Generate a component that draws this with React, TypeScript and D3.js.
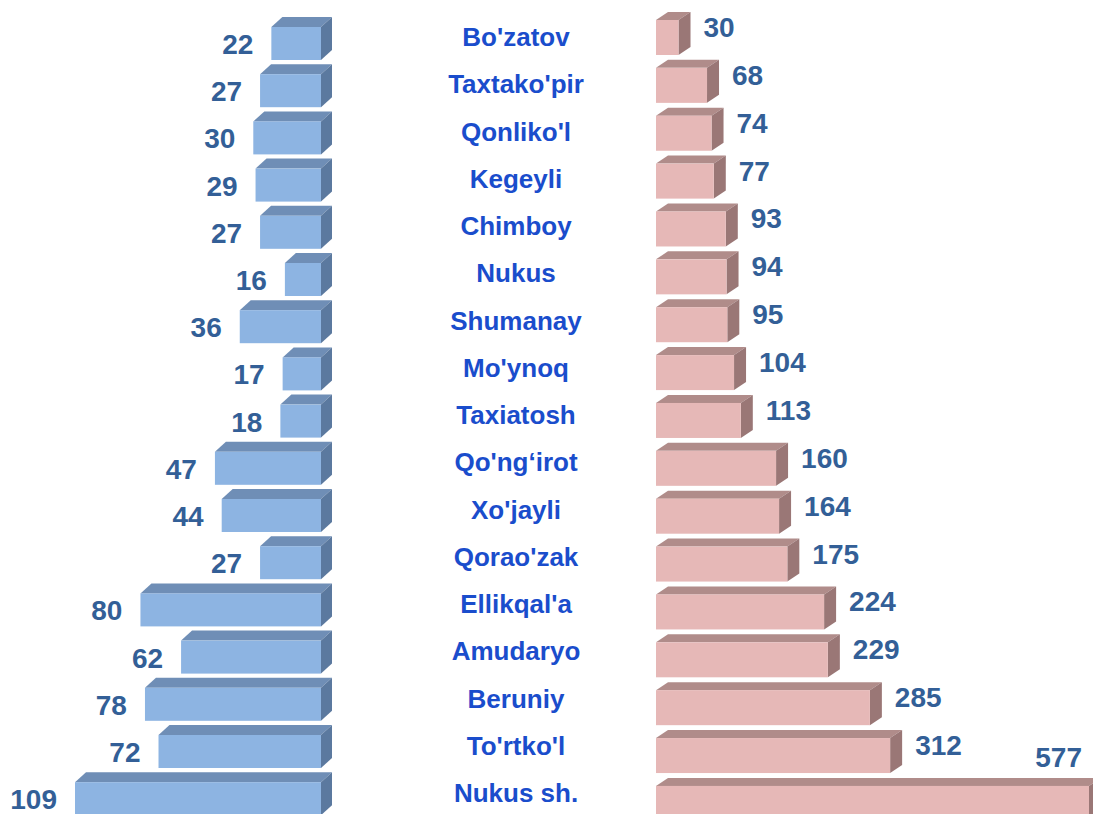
import React from "react";
import * as d3 from "d3";

const regions = ["Bo'zatov","Taxtako'pir","Qonliko'l","Kegeyli","Chimboy","Nukus","Shumanay","Mo'ynoq","Taxiatosh","Qo'ng‘irot","Xo'jayli","Qorao'zak","Ellikqal'a","Amudaryo","Beruniy","To'rtko'l","Nukus sh."];
const leftValues = [22,27,30,29,27,16,36,17,18,47,44,27,80,62,78,72,109];
const rightValues = [30,68,74,77,93,94,95,104,113,160,164,175,224,229,285,312,577];

const W = 1093, H = 814;
const FONT = "Arial, 'Liberation Sans', Helvetica, sans-serif";

function Bar3D({ x0, x1, y0, y1, dx, dy, front, top, side }: any) {
  const topPts = [[x0, y0], [x0 + dx, y0 - dy], [x1 + dx, y0 - dy], [x1, y0]];
  const sidePts = [[x1, y0], [x1 + dx, y0 - dy], [x1 + dx, y1 - dy], [x1, y1]];
  const p = (pts: number[][]) => pts.map((q) => q.join(",")).join(" ");
  return (
    <g>
      <polygon points={p(topPts)} fill={top} />
      <polygon points={p(sidePts)} fill={side} />
      <rect x={x0} y={y0} width={x1 - x0} height={y1 - y0} fill={front} />
    </g>
  );
}

export default function App() {
  const idx = regions.map((_, i) => String(i));
  const n = regions.length;
  const step = 47.2;
  const yL = d3.scaleBand().domain(idx).range([27 - (step - 33) / 2, 27 - (step - 33) / 2 + step * n]).paddingInner((step - 33) / step).paddingOuter((step - 33) / step / 2);
  const stepR = 47.87;
  const yR = d3.scaleBand().domain(idx).range([20 - (stepR - 35) / 2, 20 - (stepR - 35) / 2 + stepR * n]).paddingInner((stepR - 35) / stepR).paddingOuter((stepR - 35) / stepR / 2);
  const xL = d3.scaleLinear().domain([0, 109]).range([321, 75]);
  const xR = d3.scaleLinear().domain([0, 577]).range([656, 1089]);
  const yC = d3.scalePoint().domain(idx).range([37, 793]);

  const valColor = "#335f97";
  const catColor = "#1a4dcc";

  return (
    <svg width={W} height={H} style={{ position: "absolute", left: 0, top: 0, background: "#fff" }}>
      {leftValues.map((v, i) => {
        const y0 = yL(String(i))!;
        const y1 = y0 + yL.bandwidth();
        const x0 = xL(v), x1 = xL(0);
        return (
          <g key={"l" + i}>
            <Bar3D x0={x0} x1={x1} y0={y0} y1={y1} dx={11} dy={10} front="#8db4e2" top="#6f8eb6" side="#5b799f" />
            <text x={x0 - 18} y={(y0 + y1) / 2 + 1} textAnchor="end" dominantBaseline="central"
              fontFamily={FONT} fontWeight="bold" fontSize={28} fill={valColor}>{v}</text>
          </g>
        );
      })}
      {rightValues.map((v, i) => {
        const y0 = yR(String(i))!;
        const y1 = y0 + yR.bandwidth();
        const x0 = xR(0), x1 = xR(v);
        const label = String(v);
        const tw = label.length * 15.5;
        const fits = x1 + 24 + tw < W - 8;
        return (
          <g key={"r" + i}>
            <Bar3D x0={x0} x1={x1} y0={y0} y1={y1} dx={12} dy={8} front="#e6b8b7" top="#b08c8a" side="#9a7776" />
            {fits ? (
              <text x={x1 + 25} y={(y0 + y1) / 2 - 10} textAnchor="start" dominantBaseline="central"
                fontFamily={FONT} fontWeight="bold" fontSize={28} fill={valColor}>{label}</text>
            ) : (
              <text x={W - 11} y={y0 - 28} textAnchor="end" dominantBaseline="central"
                fontFamily={FONT} fontWeight="bold" fontSize={28} fill={valColor}>{label}</text>
            )}
          </g>
        );
      })}
      {regions.map((r, i) => (
        <text key={"c" + i} x={516} y={yC(String(i))!} textAnchor="middle" dominantBaseline="central"
          fontFamily={FONT} fontWeight="bold" fontSize={26} fill={catColor}>{r}</text>
      ))}
    </svg>
  );
}
